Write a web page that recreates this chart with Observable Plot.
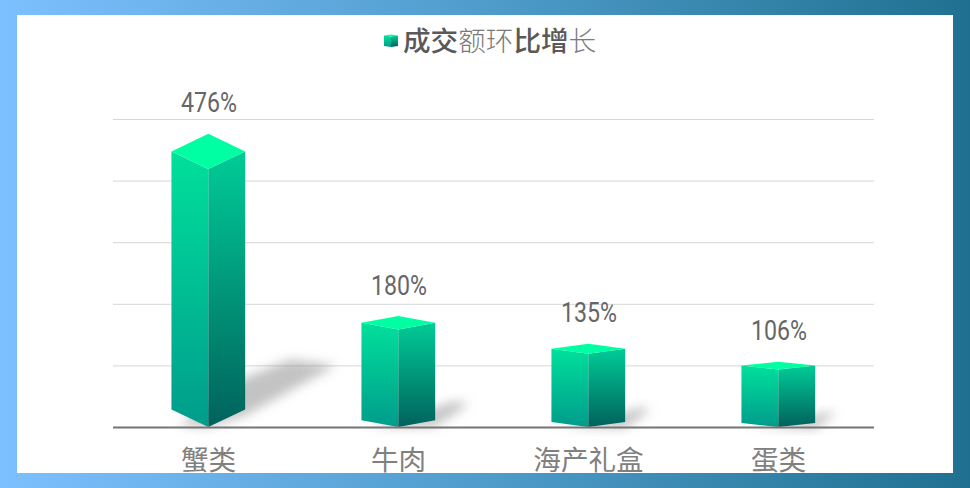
<!DOCTYPE html>
<html><head><meta charset="utf-8">
<script src="https://cdn.jsdelivr.net/npm/d3@7"></script>
<script src="https://cdn.jsdelivr.net/npm/@observablehq/plot@0.6"></script>
<style>html,body{margin:0;padding:0;background:#fff}svg{display:block}</style>
</head><body><div id="c"></div>
<script>
const categories = ["蟹类","牛肉","海产礼盒","蛋类"];
const growth = [476,180,135,106];
const yTicks = [100,200,300,400,500];
const titleParts = [["成交",500],["额环",300],["比增",500],["长",300]];
const rows = categories.map((c,i)=>({c,v:growth[i]}));
const ns = "http://www.w3.org/2000/svg";
const el = (n,a,p)=>{const e=document.createElementNS(ns,n);for(const k in a)e.setAttribute(k,a[k]);if(p)p.appendChild(e);return e;};
const stops = (g,s)=>s.forEach(([o,c])=>el("stop",{offset:o,"stop-color":c},g));
const defs = ()=>{
  const d=el("defs",{});
  const a=el("linearGradient",{id:"gl",x1:0,y1:0,x2:0,y2:1},d);stops(a,[[0,"#00e09c"],[1,"#009c8b"]]);
  const b=el("linearGradient",{id:"gr",x1:0,y1:0,x2:0,y2:1},d);stops(b,[[0,"#00cc97"],[1,"#00625d"]]);
  const f=el("linearGradient",{id:"gf",x1:0,y1:0,x2:1,y2:0},d);stops(f,[[0,"#7dc0ff"],[0.5,"#4f9ccb"],[1,"#1f7090"]]);
  const s=el("filter",{id:"bl",x:"-40%",y:"-40%",width:"180%",height:"180%"},d);el("feGaussianBlur",{stdDeviation:5.5},s);
  const g=el("g",{});g.appendChild(d);return g;
};
const pts = a=>a.map(p=>p.join(",")).join(" ");
const cube = (index,scales,values,dims,ctx)=>{
  const g=el("g",{});
  const b=scales.x.bandwidth, bw=typeof b==="function"?b():b;
  for(const i of index){
    const {c,v}=rows[i];
    const cx=scales.x(c)+bw/2-0.7, hw=bw*0.194;
    const y0=scales.y(0), yt=scales.y(v), h=y0-yt, dh=h*0.06;
    const dx=h*0.31;
    el("polygon",{points:pts([[cx-hw*0.8,y0-2],[cx,y0],[cx+hw,y0-dh+6],[cx+hw+dx,y0-h*0.21],[cx+hw+dx*0.5,y0-h*0.23],[cx+hw,y0-h*0.17]]),fill:"#8c8c8c","fill-opacity":0.52,filter:"url(#bl)"},g);
    el("polygon",{points:pts([[cx-hw,yt+dh],[cx,yt+2*dh],[cx,y0],[cx-hw,y0-dh]]),fill:"url(#gl)"},g);
    el("polygon",{points:pts([[cx,yt+2*dh],[cx+hw,yt+dh],[cx+hw,y0-dh],[cx,y0]]),fill:"url(#gr)"},g);
    el("polygon",{points:pts([[cx-hw,yt+dh],[cx,yt],[cx+hw,yt+dh],[cx,yt+2*dh]]),fill:"#00ffa3"},g);
  }
  return g;
};
const frame = (index,scales,values,dims)=>{
  const g=el("g",{});
  const W=dims.width,H=dims.height,b=17,t=15;
  el("path",{"fill-rule":"evenodd",fill:"url(#gf)",d:`M0 0H${W}V${H}H0Z M${b} ${t}V${H-t}H${W-b}V${t}Z`},g);
  return g;
};
const titleMark = ()=>{
  const g=el("g",{});
  const gl=el("g",{},g);
  el("polygon",{points:pts([[384,35.5],[391,36.5],[391,47],[384,46]]),fill:"url(#gl)"},gl);
  el("polygon",{points:pts([[391,36.5],[398,35.5],[398,46],[391,47]]),fill:"url(#gr)"},gl);
  el("polygon",{points:pts([[384,35.5],[391,34.5],[398,35.5],[391,36.5]]),fill:"#00ffa3"},gl);
  const t=el("text",{x:403,y:51,"text-anchor":"start","font-family":"'Noto Sans CJK SC'","font-size":27.6,fill:"#595959"},g);
  titleParts.forEach(([s,w])=>{const p=el("tspan",{"font-weight":w,fill:w>400?"#595959":"#7a7a7a"},t);p.textContent=s;});
  return g;
};
const narrow = (index,scales,values,dims,ctx,next)=>{
  const g=next(index,scales,values,dims,ctx);
  g.querySelectorAll("text").forEach(t=>{t.setAttribute("textLength",56);t.setAttribute("lengthAdjust","spacingAndGlyphs");});
  return g;
};
const chart = Plot.plot({
  width:970,height:488,
  marginLeft:113,marginRight:96,marginTop:0,marginBottom:61,
  x:{domain:categories,padding:0,axis:null},
  y:{domain:[0,500],range:[427,119],axis:null},
  marks:[
    defs,
    Plot.ruleY(yTicks,{stroke:"#d6d6d6",strokeWidth:1}),
    Plot.barY(rows,{x:"c",y:"v",render:cube}),
    Plot.ruleY([0],{stroke:"#757575",strokeWidth:2}),
    Plot.text(rows,{x:"c",y:"v",text:d=>d.v+"%",dy:-30.5,dx:-0.5,fontSize:27,fontFamily:"Roboto",fill:"#666666",render:narrow}),
    Plot.axisX({anchor:"bottom",tickSize:0,tickPadding:23,dx:-1,fontSize:27.6,fontFamily:"'Noto Sans CJK SC'",fontWeight:400,color:"#808080",label:null}),
    frame,
    titleMark
  ]
});
chart.style.background="#fff";
document.getElementById("c").appendChild(chart);
</script></body></html>
